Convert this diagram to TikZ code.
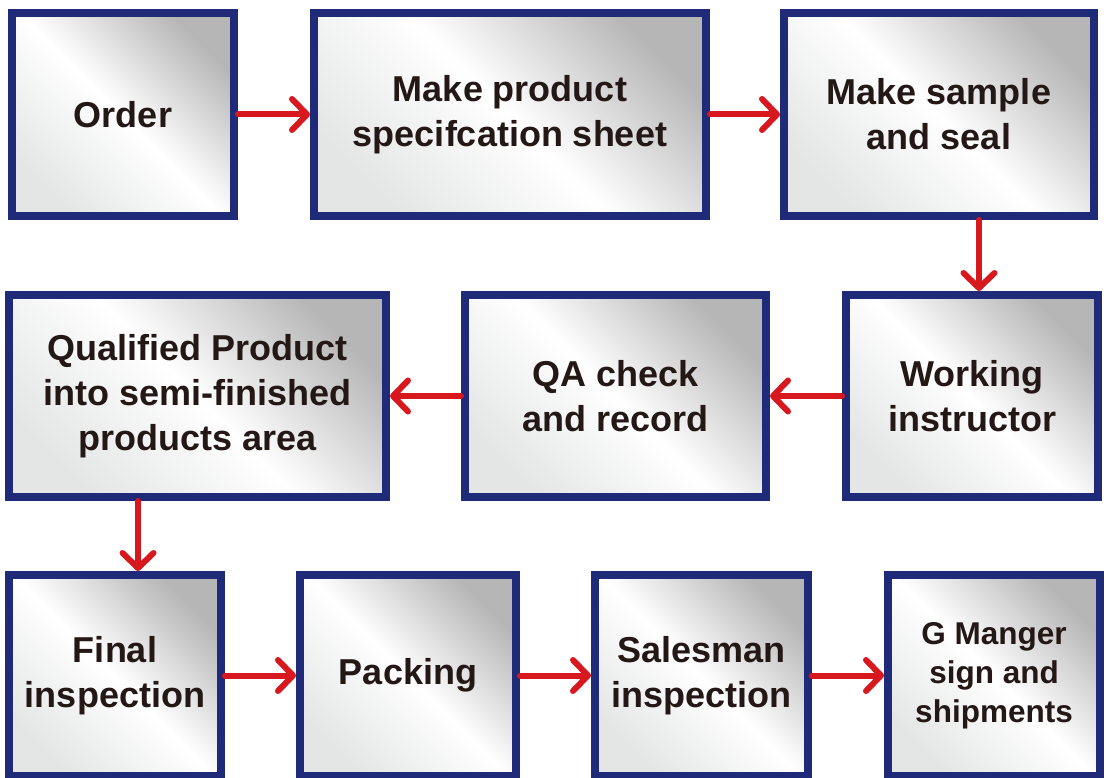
\documentclass[tikz,border=0pt]{standalone}
\usepackage{fontspec}
\setmainfont{Liberation Sans}
\usetikzlibrary{arrows.meta}
\definecolor{navy}{HTML}{1F2A78}
\definecolor{arrred}{HTML}{D7191F}
\definecolor{gtop}{HTML}{B6B6B6}
\definecolor{gbot}{HTML}{E4E5E5}
\definecolor{txt}{HTML}{231815}
\newcommand{\boxfont}{\bfseries\fontsize{36}{45}\selectfont}
\newcommand{\smallboxfont}{\bfseries\fontsize{31.5}{39}\selectfont}
\tikzset{
  box/.style={rectangle, draw=navy, line width=8pt, top color=gtop, bottom color=gbot, middle color=white, shading angle=-45, align=center, text=txt, font=\boxfont, inner sep=0pt},
  link/.style={draw=arrred, line width=6pt, line cap=round, -{Straight Barb[length=15pt, width=31pt, round]}}
}
\begin{document}
\begin{tikzpicture}[x=1pt, y=-1pt]
\useasboundingbox (0,0) rectangle (1107,778);
% row 1
\node[box, minimum width=222pt, minimum height=203pt] (order) at (123,114.5) {Order};
\node[box, minimum width=392pt, minimum height=203pt] (spec) at (510,114.5) {Make product\\specifcation sheet};
\node[box, minimum width=310pt, minimum height=203pt] (sample) at (939,114.5) {Make sample\\and seal};
% row 2
\node[box, minimum width=377pt, minimum height=202pt] (qual) at (197.5,396) {Qualified Product\\into semi-finished\\products area};
\node[box, minimum width=301pt, minimum height=202pt] (qa) at (615.5,396) {QA check\\and record};
\node[box, minimum width=252pt, minimum height=202pt] (work) at (972,396) {Working\\instructor};
% row 3
\node[box, minimum width=212pt, minimum height=201pt] (final) at (115,675.5) {Final\\inspection};
\node[box, minimum width=216pt, minimum height=201pt] (pack) at (408,675.5) {Packing};
\node[box, minimum width=213pt, minimum height=201pt] (sales) at (701.5,675.5) {Salesman\\inspection};
\node[box, minimum width=212pt, minimum height=201pt, font=\smallboxfont] (gm) at (994,675.5) {G Manger\\sign and\\shipments};
% connectors
\draw[link] (order.east) -- (order.east -| spec.west);
\draw[link] (spec.east) -- (spec.east -| sample.west);
\draw[link] ([xshift=7pt]sample.south -| work.north) -- ([xshift=7pt]work.north);
\draw[link] (work.west) -- (work.west -| qa.east);
\draw[link] (qa.west) -- (qa.west -| qual.east);
\draw[link] ([xshift=23pt]qual.south -| final.north) -- ([xshift=23pt]final.north);
\draw[link] (final.east) -- (final.east -| pack.west);
\draw[link] (pack.east) -- (pack.east -| sales.west);
\draw[link] (sales.east) -- (sales.east -| gm.west);
\end{tikzpicture}
\end{document}
